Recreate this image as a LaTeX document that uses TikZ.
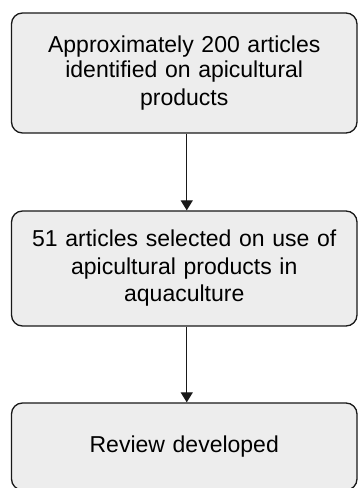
\documentclass[tikz,border=0pt]{standalone}
\usepackage{fontspec}
\setmainfont{Liberation Sans}
\usetikzlibrary{arrows.meta}
\tikzset{
  stepbox/.style={draw=black!90, line width=1.3pt, fill=black!7, rounded corners=11pt,
    minimum width=345.5pt, inner sep=0pt, align=center, text width=335pt,
    font=\fontsize{23}{27.5}\selectfont},
  flow/.style={draw=black!90, line width=1.3pt, -{Triangle[length=10pt,width=12pt]}}
}
\begin{document}
\begin{tikzpicture}[x=1pt,y=1pt]
\useasboundingbox (0,0) rectangle (358,488);
\node[stepbox, minimum height=120pt] (a) at (184.25,415) {\raisebox{-2pt}{Approximately 200 articles}\\identified on apicultural\\products};
\node[stepbox, minimum height=115pt] (b) at (184.25,219.5) {51 articles selected on use of\\apicultural products in\\aquaculture};
\node[stepbox, minimum height=87pt] (c) at (184.25,41.5) {\raisebox{-5pt}{Review developed}};
\draw[flow] ([xshift=2.5pt]a.south) -- ([xshift=2.5pt]b.north);
\draw[flow] ([xshift=2.5pt]b.south) -- ([xshift=2.5pt]c.north);
\end{tikzpicture}
\end{document}
